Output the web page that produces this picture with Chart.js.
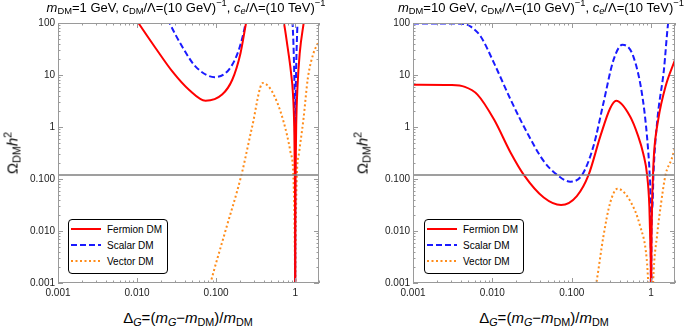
<!DOCTYPE html>
<html><head><meta charset="utf-8">
<script src="https://cdn.jsdelivr.net/npm/chart.js@4.4.1/dist/chart.umd.min.js"></script>
<style>
body{margin:0;background:#fff;}
#wrap{position:relative;width:685px;height:328px;overflow:hidden;font-family:"Liberation Sans",Arial,sans-serif;color:#000;}
canvas{position:absolute;top:0;}
.title{position:absolute;top:0px;font-size:13px;white-space:nowrap;transform:translateX(-50%);}
sub,sup{font-size:72%;line-height:0;}
sub{vertical-align:-0.25em;}
sup{vertical-align:0.6em;}
.ylab{position:absolute;font-size:15px;white-space:nowrap;transform:translate(-50%,-50%) rotate(-90deg);}
.xlab{position:absolute;top:309px;font-size:15px;white-space:nowrap;transform:translateX(-50%);}
.legend{position:absolute;border:1px solid #000;border-radius:4px;background:#fff;font-size:10px;box-sizing:border-box;}
.row{position:absolute;left:2px;height:12px;display:flex;align-items:center;}
.row svg{display:block;}
.row span{margin-left:6px;}
</style>
</head><body>
<div id="wrap">
  <canvas id="c1" width="342" height="300" style="left:0;width:342px;height:300px"></canvas>
  <canvas id="c2" width="343" height="300" style="left:342px;width:343px;height:300px"></canvas>

  <div class="title" style="left:186px"><i>m</i><sub>DM</sub>=1 GeV, <i>c</i><sub>DM</sub>/Λ=(10 GeV)<sup>−1</sup>, <i>c<sub>e</sub></i>/Λ=(10 TeV)<sup>−1</sup></div>
  <div class="title" style="left:541px"><i>m</i><sub>DM</sub>=10 GeV, <i>c</i><sub>DM</sub>/Λ=(10 GeV)<sup>−1</sup>, <i>c<sub>e</sub></i>/Λ=(10 TeV)<sup>−1</sup></div>

  <div class="ylab" style="left:12px;top:153px">Ω<sub>DM</sub><i>h</i><sup>2</sup></div>
  <div class="ylab" style="left:362px;top:153px">Ω<sub>DM</sub><i>h</i><sup>2</sup></div>

  <div class="xlab" style="left:188px">Δ<sub><i>G</i></sub>=(<i>m<sub>G</sub></i>−<i>m</i><sub>DM</sub>)/<i>m</i><sub>DM</sub></div>
  <div class="xlab" style="left:544px">Δ<sub><i>G</i></sub>=(<i>m<sub>G</sub></i>−<i>m</i><sub>DM</sub>)/<i>m</i><sub>DM</sub></div>

  <div class="legend" id="lg1" style="left:68px;top:219px;width:100px;height:55px"></div>
  <div class="legend" id="lg2" style="left:424px;top:219px;width:100px;height:55px"></div>
</div>
<script>
// ---------------- data ----------------
const xTickValues = [0.001, 0.01, 0.1, 1];
const xTickLabels = ['0.001', '0.010', '0.100', '1'];
const yTickValues = [0.001, 0.01, 0.1, 1, 10, 100];
const yTickLabels = ['0.001', '0.010', '0.100', '1', '10', '100'];
const xRange = [0.001, 2];
const yRange = [0.001, 100];
const relicDensity = 0.12;
const seriesNames = ['Fermion DM', 'Scalar DM', 'Vector DM'];

// Left panel: mDM = 1 GeV
const leftFermionX = [0.007, 0.0104, 0.0172, 0.0279, 0.0453, 0.0734, 0.119, 0.160, 0.203, 0.239, 0.27, 0.6, 0.72, 0.80, 0.88, 0.94, 0.975, 0.99, 0.997, 1.0, 1.003, 1.01, 1.03, 1.07, 1.14, 1.28, 1.4];
const leftFermionY = [250, 100, 32.7, 11.7, 5.2, 3.2, 4.2, 8.1, 26, 100, 250, 250, 100, 35, 12, 4, 0.8, 0.12, 0.012, 0.00001, 0.012, 0.12, 1.1, 6, 26, 100, 250];
const leftScalarX = [0.02, 0.0258, 0.0373, 0.055, 0.096, 0.1445, 0.193, 0.236, 0.26, 0.85, 0.925, 0.95, 0.97, 0.985, 0.995, 0.999, 1.0, 1.001, 1.005, 1.015, 1.03, 1.05, 1.07, 1.12];
const leftScalarY = [250, 100, 35, 14.5, 9.1, 12.6, 30, 100, 250, 250, 100, 40, 13, 3.5, 0.4, 0.016, 0.00001, 0.016, 0.4, 3.5, 15, 45, 100, 250];
const leftVectorX = [0.07, 0.085, 0.131, 0.209, 0.285, 0.39, 0.51, 0.70, 0.875, 0.946, 0.985, 0.995, 1.0, 1.005, 1.015, 1.05, 1.12, 1.27, 1.45, 1.7, 2.0];
const leftVectorY = [0.0003, 0.001, 0.01, 0.12, 1.0, 7.0, 4.8, 1.39, 0.32, 0.12, 0.007, 0.0008, 0.00001, 0.001, 0.008, 0.12, 0.32, 1.39, 9, 26, 45];

// Right panel: mDM = 10 GeV
const rightFermionX = [0.001, 0.003, 0.0045, 0.00649, 0.0105, 0.017, 0.0249, 0.0444, 0.0734, 0.116, 0.163, 0.229, 0.305, 0.363, 0.544, 0.68, 0.80, 0.89, 0.95, 0.98, 0.995, 1.0, 1.005, 1.02, 1.057, 1.09, 1.23, 1.52, 2.0];
const rightFermionY = [6.5, 6.4, 5.9, 4.2, 1.39, 0.32, 0.12, 0.044, 0.0316, 0.047, 0.12, 0.66, 2.3, 3.2, 1.6, 0.7, 0.3, 0.12, 0.03, 0.005, 0.0009, 0.00001, 0.0009, 0.015, 0.12, 0.32, 1.39, 6, 19.5];
const rightScalarX = [0.001, 0.003, 0.0045, 0.00535, 0.00713, 0.0105, 0.017, 0.0275, 0.0444, 0.0655, 0.096, 0.135, 0.188, 0.251, 0.336, 0.435, 0.598, 0.798, 0.923, 0.96, 0.99, 1.0, 1.01, 1.04, 1.07, 1.2, 1.45, 1.64, 1.8];
const rightScalarY = [98, 98, 95, 85, 55, 16.9, 3.35, 0.77, 0.22, 0.12, 0.089, 0.12, 0.43, 2.9, 19.5, 38, 22.6, 2.9, 0.32, 0.12, 0.01, 0.00001, 0.01, 0.03, 0.12, 1.39, 12.6, 100, 200];
const rightVectorX = [0.18, 0.204, 0.251, 0.305, 0.377, 0.544, 0.726, 0.88, 0.92, 0.96, 1.03, 1.06, 1.2, 1.32, 1.52, 1.81, 2.0];
const rightVectorY = [0.0004, 0.001, 0.008, 0.035, 0.065, 0.038, 0.0125, 0.0029, 0.001, 0.0002, 0.0002, 0.001, 0.0093, 0.030, 0.12, 0.24, 0.40];

// ---------------- styles ----------------
const seriesStyles = [
  {color: '#ff0000', dash: []},
  {color: '#1a1aff', dash: [6, 3]},
  {color: '#ff8c1a', dash: [2, 2.5]}
];

function pts(xs, ys) { return xs.map((x, i) => ({x: x, y: ys[i]})); }

const frameTicks = {
  id: 'frameTicks',
  afterDatasetsDraw(chart) {
    const {ctx, chartArea: a, scales} = chart;
    const xs = scales.x, ys = scales.y;
    ctx.save();
    ctx.strokeStyle = '#9a9a9a';
    ctx.lineWidth = 1;
    ctx.strokeRect(Math.round(a.left) + 0.5, Math.round(a.top) + 0.5, Math.round(a.right - a.left) - 1, Math.round(a.bottom - a.top) - 1);
    const minorOf = (vals, lo, hi) => {
      const out = [];
      vals.forEach(d => { for (let k = 2; k <= 9; k++) { const v = d * k; if (v >= lo && v <= hi) out.push(v); } });
      return out;
    };
    const xMinor = minorOf(xTickValues, xRange[0], xRange[1]);
    const yMinor = minorOf(yTickValues, yRange[0], yRange[1]);
    ctx.beginPath();
    const xt = (v, len) => {
      const p = Math.round(xs.getPixelForValue(v)) + 0.5;
      ctx.moveTo(p, a.bottom); ctx.lineTo(p, a.bottom - len);
      ctx.moveTo(p, a.top); ctx.lineTo(p, a.top + len);
    };
    const yt = (v, len) => {
      const p = Math.round(ys.getPixelForValue(v)) + 0.5;
      ctx.moveTo(a.left, p); ctx.lineTo(a.left + len, p);
      ctx.moveTo(a.right, p); ctx.lineTo(a.right - len, p);
    };
    xTickValues.forEach(v => xt(v, 5));
    xMinor.forEach(v => xt(v, 2.5));
    yTickValues.forEach(v => yt(v, 5));
    yMinor.forEach(v => yt(v, 2.5));
    ctx.stroke();
    ctx.restore();
  }
};

function makeChart(id, series, yAxisWidth, padRight) {
  const datasets = series.map((s, i) => ({
    label: seriesNames[i],
    data: pts(s[0], s[1]),
    borderColor: seriesStyles[i].color,
    borderDash: seriesStyles[i].dash,
    borderWidth: 2,
    pointRadius: 0,
    fill: false,
    cubicInterpolationMode: 'monotone',
    order: 2
  }));
  datasets.push({
    label: 'relic',
    data: [{x: xRange[0], y: relicDensity}, {x: xRange[1], y: relicDensity}],
    borderColor: '#7f7f7f',
    borderWidth: 1.5,
    pointRadius: 0,
    order: 1
  });
  return new Chart(document.getElementById(id), {
    type: 'line',
    data: {datasets},
    plugins: [frameTicks],
    options: {
      responsive: false,
      animation: false,
      devicePixelRatio: 1,
      layout: {padding: {left: 0, right: padRight, top: 23, bottom: 0}},
      plugins: {legend: {display: false}, tooltip: {enabled: false}},
      scales: {
        x: {
          type: 'logarithmic', min: xRange[0], max: xRange[1],
          grid: {display: false, drawTicks: false},
          border: {display: false},
          afterBuildTicks: s => { s.ticks = xTickValues.map(v => ({value: v})); },
          afterFit: s => { s.height = 17; },
          ticks: {
            autoSkip: false, maxRotation: 0, padding: 4, color: '#222',
            font: {family: 'Liberation Sans', size: 10},
            callback: v => xTickLabels[xTickValues.indexOf(v)]
          }
        },
        y: {
          type: 'logarithmic', min: yRange[0], max: yRange[1],
          grid: {display: false, drawTicks: false},
          border: {display: false},
          afterBuildTicks: s => { s.ticks = yTickValues.map(v => ({value: v})); },
          afterFit: s => { s.width = yAxisWidth; },
          ticks: {
            autoSkip: false, padding: 3, color: '#222',
            font: {family: 'Liberation Sans', size: 10},
            callback: v => yTickLabels[yTickValues.indexOf(v)]
          }
        }
      }
    }
  });
}

makeChart('c1', [[leftFermionX, leftFermionY], [leftScalarX, leftScalarY], [leftVectorX, leftVectorY]], 58, 23);
makeChart('c2', [[rightFermionX, rightFermionY], [rightScalarX, rightScalarY], [rightVectorX, rightVectorY]], 71, 10);

// HTML legends
function buildLegend(el) {
  seriesNames.forEach((name, i) => {
    const st = seriesStyles[i];
    const row = document.createElement('div');
    row.className = 'row';
    row.style.top = (3 + i * 16) + 'px';
    row.innerHTML = '<svg width="30" height="4"><line x1="0" y1="2" x2="30" y2="2" stroke="' + st.color +
      '" stroke-width="2" stroke-dasharray="' + (st.dash.length ? st.dash.join(',') : 'none') + '"/></svg><span>' + name + '</span>';
    el.appendChild(row);
  });
}
buildLegend(document.getElementById('lg1'));
buildLegend(document.getElementById('lg2'));
</script>
</body></html>
